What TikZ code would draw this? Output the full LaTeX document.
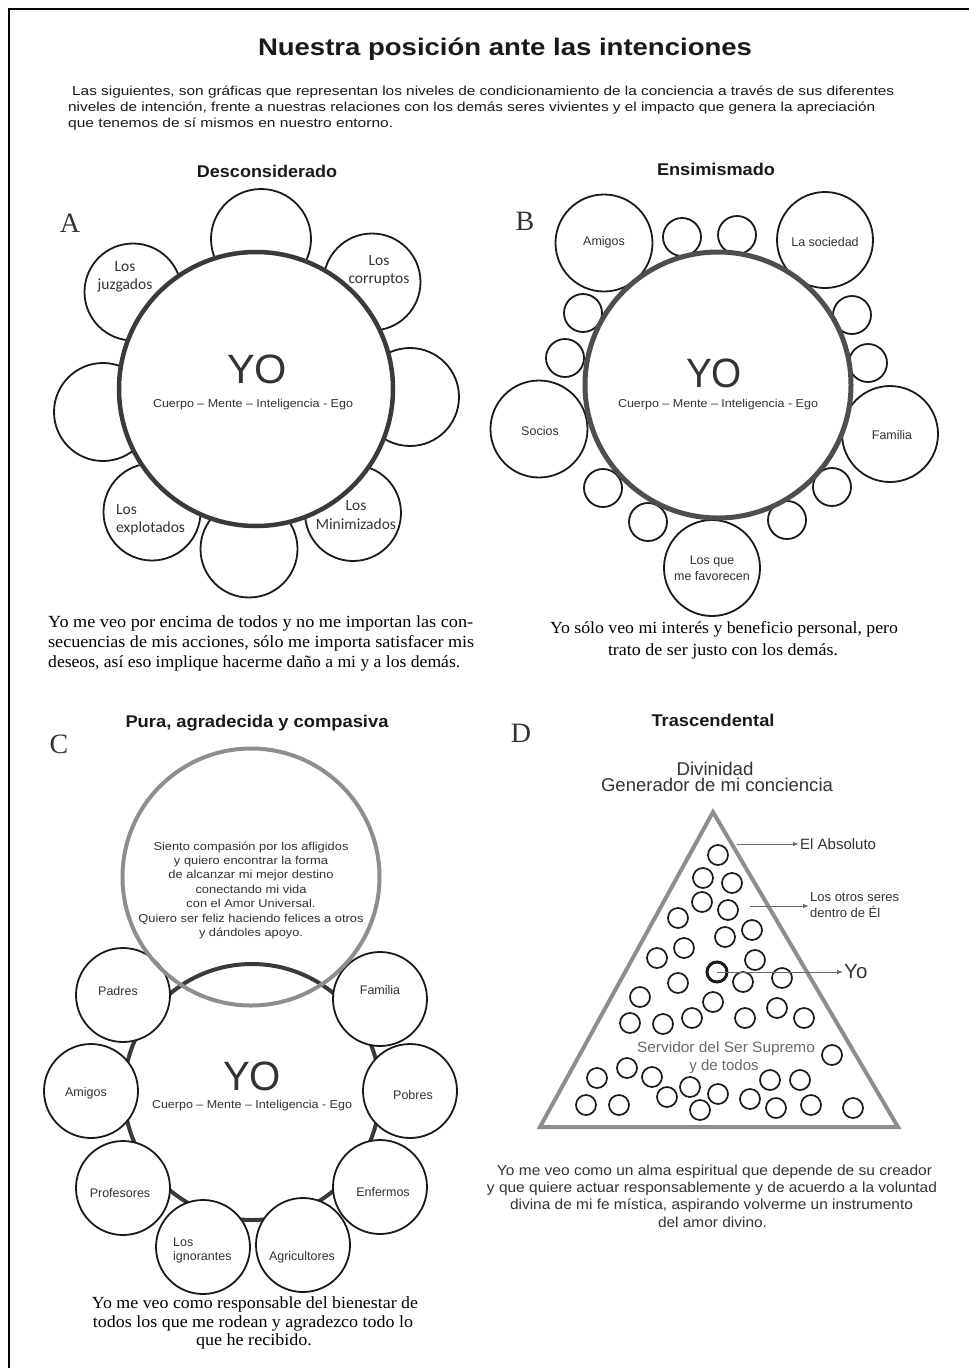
\documentclass[tikz,border=0pt]{standalone}
\usepackage{fontspec}
\usepackage{graphicx}
\usetikzlibrary{arrows.meta}
\setmainfont{Liberation Serif}
\newfontfamily\arialf[Ligatures=TeX]{Liberation Sans}
\newfontfamily\calibf[Ligatures=TeX]{Carlito}
\newcommand\fitw[2]{\resizebox{#1}{\height}{#2}}
\newcommand\fsz[2]{\fontsize{#1}{#2}\selectfont}
\definecolor{ink}{HTML}{1A1A1A}
\definecolor{ringc}{HTML}{3A3A3A}
\definecolor{grayc}{HTML}{8E8E8E}
\definecolor{txt}{HTML}{333333}
\definecolor{soft}{HTML}{6A6A6A}
\begin{document}
\begin{tikzpicture}[x=1pt,y=-1pt,
  sat/.style={circle, draw=ink, line width=1.8pt, fill=white, minimum size=#1, inner sep=0pt},
  small/.style={circle, draw=ink, line width=1.8pt, fill=white, minimum size=38pt, inner sep=0pt},
  bigc/.style={circle, draw=ringc, line width=4.5pt, minimum size=#1, inner sep=0pt},
  dotc/.style={circle, draw=ink, line width=1.7pt, minimum size=20pt, inner sep=0pt},
  lbl/.style={font=\arialf\fsz{12.5}{14}, text=txt, inner sep=0pt, align=center},
  lblA/.style={font=\calibf\fsz{15.5}{18.5}, text=txt, inner sep=0pt, align=center},
  sub/.style={font=\arialf\fsz{11.5}{13}, text=txt, inner sep=0pt, anchor=base},
  yo/.style={font=\arialf\fsz{41}{41}, text=txt, inner sep=0pt, anchor=base},
  ptitle/.style={font=\arialf\bfseries\fsz{17}{19}, text=ink, inner sep=0pt, anchor=base},
  panelletter/.style={font=\fsz{28}{28}, text=txt, inner sep=0pt, anchor=base},
  capserif/.style={font=\fsz{17}{20}, text=black, inner sep=0pt},
  capsans/.style={font=\arialf\fsz{14.5}{17}, text=txt, inner sep=0pt, anchor=base},
  intro/.style={font=\arialf\fsz{13}{16}, text=ink, inner sep=0pt, anchor=base west},
  ctext/.style={font=\arialf\fsz{11.5}{14}, text=txt, inner sep=0pt, anchor=base},
  arr/.style={draw=soft, line width=0.8pt, -{Latex[length=6pt,width=4.5pt]}},
  dlbl/.style={font=\arialf\fsz{14.5}{16.5}, text=txt, inner sep=1pt, align=left, anchor=west}
]
\useasboundingbox (0,0) rectangle (969,1368);
\fill[white] (0,0) rectangle (969,1368);
% page border
\coordinate (bl) at (9,1368);
\coordinate (tr) at (969,9);
\draw[line width=2.5pt, black] (bl) |- (tr);

% heading
\node[font=\arialf\bfseries\fsz{24}{26}, text=ink, inner sep=0pt, anchor=base] (title) at (505,55) {\fitw{494pt}{Nuestra posición ante las intenciones}};
\node[intro] (in1) at (72,95) {\fitw{822pt}{Las siguientes, son gráficas que representan los niveles de condicionamiento de la conciencia a través de sus diferentes}};
\node[intro] (in2) at (68,111) {\fitw{807pt}{niveles de intención, frente a nuestras relaciones con los demás seres vivientes y el impacto que genera la apreciación}};
\node[intro] (in3) at (68,127) {\fitw{325pt}{que tenemos de sí mismos en nuestro entorno.}};

%% ---------------- Panel A
\node[ptitle] (tA) at (267,177) {\fitw{140pt}{Desconsiderado}};
\node[panelletter] (lA) at (70,232) {A};
\node[sat=100pt] (a1) at (261,239) {};
\node[sat=97pt] (a2) at (372,282) {};
\node[sat=98pt] (a3) at (410,397) {};
\node[sat=96pt] (a4) at (353,513) {};
\node[sat=97pt] (a5) at (249,549) {};
\node[sat=97pt] (a6) at (152,512) {};
\node[sat=98pt] (a7) at (103,412) {};
\node[sat=97pt] (a8) at (133,292) {};
\node[bigc=274pt, fill=white] (yoA) at (256,389) {};
\node[lblA] (a8t) at (125,277) {Los\\juzgados};
\node[lblA] (a2t) at (379,271) {Los\\corruptos};
\node[lblA, align=left, anchor=west] (a6t) at (116,520) {Los\\explotados};
\node[lblA] (a4t) at (356,515) {Los\\Minimizados};
\node[yo] (yoAt) at (257,383) {\fitw{60pt}{YO}};
\node[sub] (subA) at (253,407) {\fitw{200pt}{Cuerpo – Mente – Inteligencia - Ego}};
\node[capserif, anchor=base west] (cA1) at (48,627) {\fitw{425pt}{Yo me veo por encima de todos y no me importan las con-}};
\node[capserif, anchor=base west] (cA2) at (48,647) {\fitw{426pt}{secuencias de mis acciones, sólo me importa satisfacer mis}};
\node[capserif, anchor=base west] (cA3) at (48,667) {\fitw{412pt}{deseos, así eso implique hacerme daño a mi y a los demás.}};

%% ---------------- Panel B
\node[ptitle] (tB) at (716,175) {\fitw{118pt}{Ensimismado}};
\node[panelletter] (lB) at (525,230) {B};
\node[sat=97pt] (b1) at (604,243) {};
\node[sat=96pt] (b2) at (825,240) {};
\node[sat=97pt] (b3) at (539,429) {};
\node[sat=96pt] (b4) at (890,434) {};
\node[sat=96pt] (b5) at (712,568) {};
\node[small] (s1) at (682,237) {};
\node[small] (s2) at (737,235) {};
\node[small] (s3) at (583,313) {};
\node[small] (s4) at (565,358) {};
\node[small] (s5) at (852,315) {};
\node[small] (s6) at (868,363) {};
\node[small] (s7) at (603,488) {};
\node[small] (s8) at (648,522) {};
\node[small] (s9) at (787,520) {};
\node[small] (s10) at (832,487) {};
\node[bigc=266pt, draw=ringc!90!white, line width=5pt, fill=white] (yoB) at (718,385) {};
\node[lbl] (b1t) at (604,242) {Amigos};
\node[lbl] (b2t) at (825,242) {La sociedad};
\node[lbl] (b3t) at (540,431) {Socios};
\node[lbl] (b4t) at (892,435) {Familia};
\node[lbl, font=\arialf\fsz{12.5}{16}] (b5t) at (712,568) {Los que\\me favorecen};
\node[yo] (yoBt) at (714,387) {\fitw{56pt}{YO}};
\node[sub] (subB) at (718,407) {\fitw{200pt}{Cuerpo – Mente – Inteligencia - Ego}};
\node[capserif, anchor=base] (cB1) at (724,633) {\fitw{348pt}{Yo sólo veo mi interés y beneficio personal, pero}};
\node[capserif, anchor=base] (cB2) at (723,655) {\fitw{230pt}{trato de ser justo con los demás.}};

%% ---------------- Panel C
\node[ptitle] (tC) at (257,727) {\fitw{263pt}{Pura, agradecida y compasiva}};
\node[panelletter] (lC) at (59,753) {C};
\node[bigc=256pt, line width=4pt] (yoC) at (252,1092) {};
\node[sat=94pt] (c1) at (123,995) {};
\node[sat=94pt] (c2) at (380,999) {};
\node[sat=94pt] (c3) at (91,1091) {};
\node[sat=94pt] (c4) at (410,1091) {};
\node[sat=94pt] (c5) at (123,1188) {};
\node[sat=94pt] (c6) at (380,1187) {};
\node[sat=94pt] (c7) at (203,1247) {};
\node[sat=94pt] (c8) at (303,1245) {};
\node[circle, draw=grayc, line width=4pt, minimum size=257pt, inner sep=0pt] (comp) at (251,877) {};
\node[lbl] (c1t) at (118,991) {Padres};
\node[lbl] (c2t) at (380,990) {Familia};
\node[lbl] (c3t) at (86,1093) {Amigos};
\node[lbl] (c4t) at (413,1095) {Pobres};
\node[lbl] (c5t) at (120,1193) {Profesores};
\node[lbl] (c6t) at (383,1192) {Enfermos};
\node[lbl, align=left, anchor=west] (c7t) at (173,1250) {Los\\ignorantes};
\node[lbl] (c8t) at (302,1257) {Agricultores};
\node[yo] (yoCt) at (252,1090) {\fitw{58pt}{YO}};
\node[sub] (subC) at (252,1108) {\fitw{200pt}{Cuerpo – Mente – Inteligencia - Ego}};
\node[ctext] (g1) at (251,850) {\fitw{195pt}{Siento compasión por los afligidos}};
\node[ctext] (g2) at (251,864) {\fitw{154pt}{y quiero encontrar la forma}};
\node[ctext] (g3) at (251,878) {\fitw{165pt}{de alcanzar mi mejor destino}};
\node[ctext] (g4) at (251,893) {\fitw{111pt}{conectando mi vida}};
\node[ctext] (g5) at (251,907) {\fitw{129pt}{con el Amor Universal.}};
\node[ctext] (g6) at (251,922) {\fitw{225pt}{Quiero ser feliz haciendo felices a otros}};
\node[ctext] (g7) at (251,936) {\fitw{104pt}{y dándoles apoyo.}};
\node[capserif, anchor=base] (cC1) at (255,1308) {\fitw{326pt}{Yo me veo como responsable del bienestar de}};
\node[capserif, anchor=base] (cC2) at (253,1327) {\fitw{320pt}{todos los que me rodean y agradezco todo lo}};
\node[capserif, anchor=base] (cC3) at (254,1345) {\fitw{116pt}{que he recibido.}};

%% ---------------- Panel D
\node[ptitle] (tD) at (713,726) {\fitw{123pt}{Trascendental}};
\node[panelletter] (lD) at (521,742) {D};
\node[font=\arialf\fsz{18.5}{20}, text=txt, inner sep=0pt, anchor=base] (div1) at (715,775) {\fitw{77pt}{Divinidad}};
\node[font=\arialf\fsz{18.5}{20}, text=txt, inner sep=0pt, anchor=base] (div2) at (717,791) {\fitw{232pt}{Generador de mi conciencia}};
\coordinate (apex) at (713,812);
\coordinate (tl) at (540,1127);
\coordinate (trr) at (898,1127);
\draw[draw=grayc, line width=4pt, line join=miter] (apex) -- (trr) -- (tl) -- cycle;
\foreach \p [count=\i] in {(718,855),(703,878),(732,883),(702,902),(728,910),(678,918),(752,930),(725,937),(684,948),(657,958),(755,960),(678,983),(743,982),(782,978),(640,997),(713,1002),(630,1023),(663,1024),(692,1018),(745,1018),(777,1008),(804,1018),(832,1055),(597,1078),(627,1068),(652,1077),(667,1097),(690,1087),(718,1094),(700,1110),(750,1099),(770,1080),(800,1080),(776,1108),(811,1105),(586,1105),(619,1105),(853,1108)}
  \node[dotc] (d\i) at \p {};
\node[dotc, line width=3pt] (yoD) at (717,972) {};
\node[font=\arialf\fsz{15}{17}, text=soft, inner sep=0pt, anchor=base] (serv1) at (726,1052) {\fitw{178pt}{Servidor del Ser Supremo}};
\node[font=\arialf\fsz{15}{17}, text=soft, inner sep=0pt, anchor=base] (serv2) at (724,1070) {y de todos};
\coordinate (absS) at (737,844);
\coordinate (othS) at (750,906);
\node[dlbl, font=\arialf\fsz{15}{17}] (labs) at (799,844) {El Absoluto};
\node[dlbl, font=\arialf\fsz{13}{16}] (loth) at (809,905) {Los otros seres\\dentro de Él};
\node[dlbl, font=\arialf\fsz{20.5}{22}] (lyo) at (843,972) {Yo};
\draw[arr] (absS) -- (labs.west);
\draw[arr] (othS) -- (loth.west |- othS);
\draw[arr] (yoD.center) -- (lyo.west);
\node[capsans] (cD1) at (714.5,1175) {\fitw{435pt}{Yo me veo como un alma espiritual que depende de su creador}};
\node[capsans] (cD2) at (712,1192) {\fitw{450pt}{y que quiere actuar responsablemente y de acuerdo a la voluntad}};
\node[capsans] (cD3) at (711.5,1209) {\fitw{403pt}{divina de mi fe mística, aspirando volverme un instrumento}};
\node[capsans] (cD4) at (712.5,1227) {\fitw{109pt}{del amor divino.}};
\end{tikzpicture}
\end{document}
